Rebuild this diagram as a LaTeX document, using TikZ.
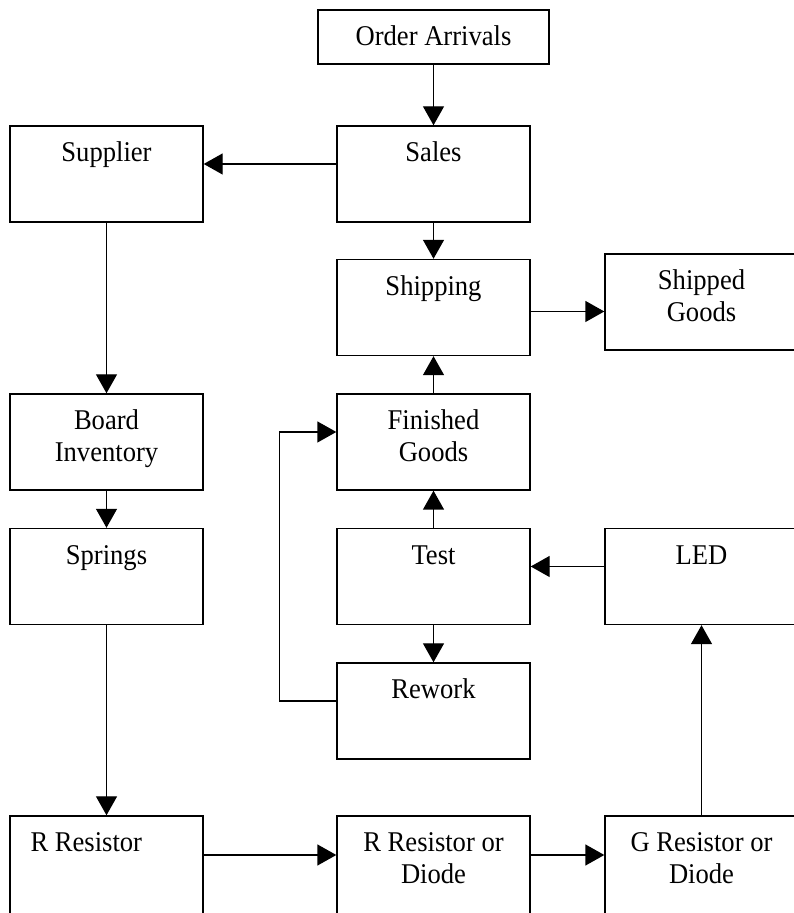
\documentclass[tikz,border=0pt]{standalone}
\usepackage{fontspec}
\setmainfont{Liberation Serif}[FakeStretch=0.93]
\usetikzlibrary{arrows.meta}
\newlength{\boxht}
\setlength{\boxht}{44pt}
\newcommand{\boxtext}[2][\centering]{\parbox[t][\boxht][t]{94pt}{#1\rule{0pt}{16pt}#2\par}}
\begin{document}
\begin{tikzpicture}[x=0.5pt,y=0.5pt,every node/.style={font=\fontsize{14.3}{16}\selectfont}]
                \tikzset{
                  box/.style={draw, line width=0.7pt, minimum width=96.5pt, minimum height=48pt, inner sep=0pt},
                  flow/.style={-{Triangle[length=9.5pt,width=10.5pt]}, line width=0.7pt},
                }
                \useasboundingbox (0,0) rectangle (793,913);

                \node[box, minimum width=115.5pt, minimum height=27pt] (order) at (433.5,876)
                  {\parbox[t][23pt][t]{110pt}{\centering\rule{0pt}{16pt}Order Arrivals\par}};
                \node[box] (sales) at (433.5,739) {\boxtext{Sales}};
                \node[box] (supplier) at (106.5,739) {\boxtext{Supplier}};
                \node[box] (shipping) at (433.5,605.5) {\boxtext{Shipping}};
                \node[box] (shipped) at (701.5,611) {\boxtext{Shipped\\Goods}};
                \node[box] (board) at (106.5,471) {\boxtext{Board\\Inventory}};
                \node[box] (finished) at (433.5,471) {\boxtext{Finished\\Goods}};
                \node[box] (springs) at (106.5,336.5) {\boxtext{Springs}};
                \node[box] (test) at (433.5,336.5) {\boxtext{Test}};
                \node[box] (led) at (701.5,336.5) {\boxtext{LED}};
                \node[box] (rework) at (433.5,202) {\boxtext{Rework}};
                % bottom row runs off the lower edge
                \setlength{\boxht}{48pt}
                \node[box, minimum height=52pt] (rres) at (106.5,45) {\boxtext[\raggedright\hspace*{9pt}]{R Resistor}};
                \node[box, minimum height=52pt] (rdiode) at (433.5,45) {\boxtext{R Resistor or\\Diode}};
                \node[box, minimum height=52pt] (gdiode) at (701.5,45) {\boxtext{G Resistor or\\Diode}};
                \coordinate (bend) at (279.7,0);

                \draw[flow] (order) -- (sales);
                \draw[flow] ([yshift=5pt]sales.west) -- ([yshift=5pt]supplier.east);
                \draw[flow] (sales) -- (shipping);
                \draw[flow] ([yshift=-2pt]shipping.east) -- ([yshift=-2pt]shipping.east -| shipped.west);
                \draw[flow] (supplier) -- (board);
                \draw[flow] (board) -- (springs);
                \draw[flow] (springs) -- (rres);
                \draw[flow] (finished) -- (shipping);
                \draw[flow] (test) -- (finished);
                \draw[flow] (test) -- (rework);
                \draw[flow] ([yshift=5pt]led.west) -- ([yshift=5pt]test.east);
                \draw[flow] ([yshift=5pt]rework.west) -| ([yshift=5pt]finished.west -| bend) -- ([yshift=5pt]finished.west);
                \draw[flow] ([yshift=6.5pt]rres.east) -- ([yshift=6.5pt]rdiode.west);
                \draw[flow] ([yshift=6.5pt]rdiode.east) -- ([yshift=6.5pt]gdiode.west);
                \draw[flow] (gdiode) -- (led);
            \end{tikzpicture}
\end{document}
